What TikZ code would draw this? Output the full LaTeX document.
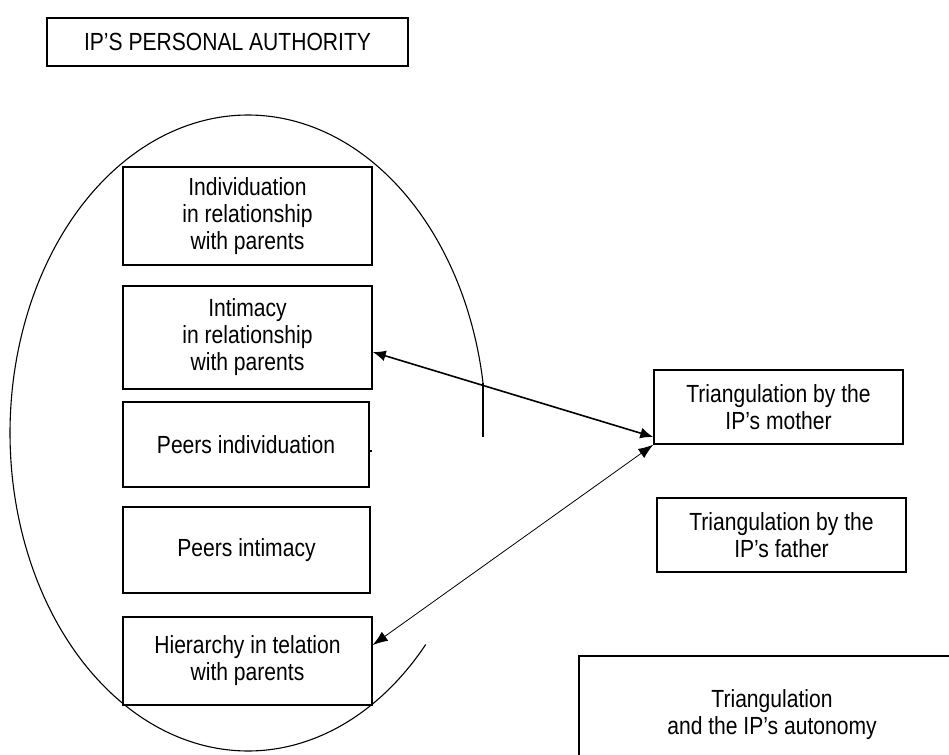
\documentclass[tikz,border=0pt]{standalone}
\usepackage{fontspec}
\setmainfont{Liberation Sans}[FakeStretch=0.85]
\usetikzlibrary{arrows.meta}
\begin{document}
\begin{tikzpicture}[x=1pt,y=-1pt,
  box/.style={draw, line width=1.5pt, align=center, inner sep=0pt,
    font=\fontsize{24.8}{27}\selectfont},
  ring/.style={line width=1.1pt},
  boldtip/.tip={Latex[length=13pt,width=11pt,fill=black]},
  finetip/.tip={Latex[length=15pt,width=11pt,fill=black]},
  link/.style={line width=1.6pt, boldtip-boldtip},
  thinlink/.style={line width=0.8pt, finetip-finetip}]
\useasboundingbox (0,0) rectangle (949,754);
\clip (0,0) rectangle (949,754);

% heading
\node[box, minimum width=361pt, minimum height=48pt] (auth) at (227.5,42) {IP’S PERSONAL AUTHORITY};

% dimensions inside the ring
\node[box, minimum width=249pt, minimum height=98pt] (indiv) at (247.5,216) {Individuation\\in relationship\\with parents};
\node[box, minimum width=249pt, minimum height=103pt] (intim) at (247.5,337.5) {Intimacy\\in relationship\\with parents};
\node[box, minimum width=246pt, minimum height=85pt] (pind) at (246,444.5) {Peers individuation};
\node[box, minimum width=247pt, minimum height=86pt] (pint) at (246.5,550) {Peers intimacy};
\node[box, minimum width=249pt, minimum height=88pt] (hier) at (247.5,661) {Hierarchy in telation\\with parents};

% triangulation boxes
\node[box, minimum width=249pt, minimum height=74pt] (mother) at (778.5,407) {Triangulation by the\\IP’s mother};
\node[box, minimum width=249pt, minimum height=74pt] (father) at (781.5,535) {Triangulation by the\\IP’s father};
\node[box, minimum width=386pt, minimum height=118pt] (auton) at (772,715) {Triangulation\\and the IP’s autonomy};

% open ring around the dimensions, ending in a short vertical stroke
\draw[ring] plot[domain=41.7:351, samples=200, smooth] ({248+238*cos(\x)}, {433+318*sin(\x)});
\draw[line width=1.6pt] (483.1,383.3) -- (483.1,437);

% small stub on the peers box
\draw[line width=1.5pt] ([yshift=-6.5pt]pind.east) -- ++(2.5,0);

% links to the mother's triangulation
\draw[link] ([yshift=-14.5pt]intim.east) -- ([yshift=-30pt]mother.west);
\draw[thinlink] (mother.south west) -- ([yshift=16pt]hier.east);
\end{tikzpicture}
\end{document}
